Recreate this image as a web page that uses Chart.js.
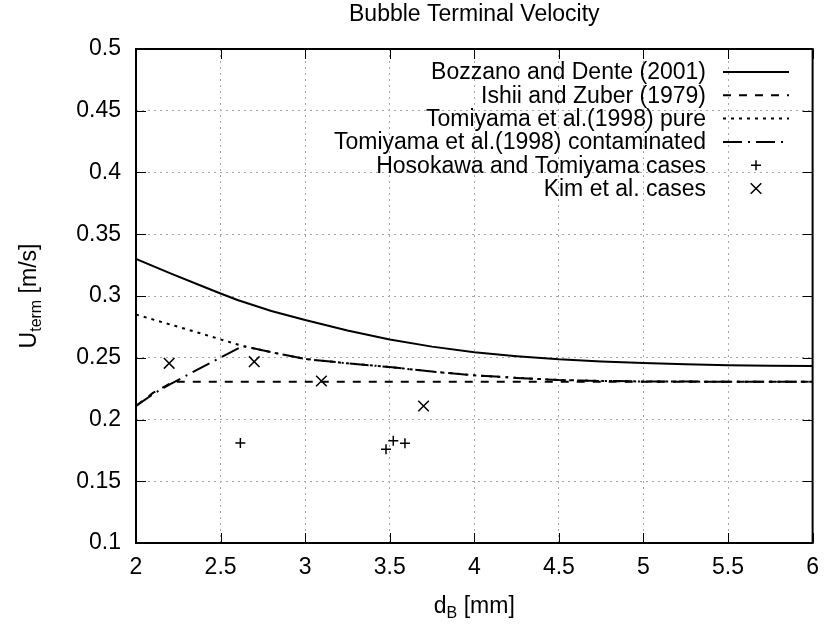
<!DOCTYPE html>
<html>
<head>
<meta charset="utf-8">
<script src="https://cdn.jsdelivr.net/npm/chart.js@4.4.1/dist/chart.umd.min.js"></script>
<style>
  html, body { margin: 0; padding: 0; background: #fff; }
</style>
</head>
<body>
<canvas id="chart" width="830" height="624"></canvas>
<script>
/* ================================
   Data
================================ */
const xTicks = [2, 2.5, 3, 3.5, 4, 4.5, 5, 5.5, 6];
const yTicks = [0.1, 0.15, 0.2, 0.25, 0.3, 0.35, 0.4, 0.45, 0.5];

const bozzanoX = [2, 2.2, 2.4, 2.5, 2.6, 2.8, 3, 3.25, 3.5, 3.75, 4, 4.25, 4.5, 4.75, 5, 5.25, 5.5, 5.75, 6];
const bozzanoY = [0.330, 0.3185, 0.3075, 0.302, 0.2968, 0.2878, 0.2805, 0.272, 0.2648, 0.259, 0.2545, 0.2513, 0.2487, 0.2470, 0.2458, 0.2448, 0.2440, 0.2436, 0.2433];

const ishiiX = [2, 2.1, 2.22, 6];
const ishiiY = [0.211, 0.2215, 0.2305, 0.2305];

const pureX = [2, 2.2, 2.4, 2.63, 2.8, 3, 3.25, 3.5, 3.75, 4, 4.25, 4.5, 4.75, 5, 5.5, 6];
const pureY = [0.285, 0.277, 0.269, 0.2595, 0.2545, 0.249, 0.2455, 0.2425, 0.2388, 0.2358, 0.2337, 0.232, 0.2312, 0.2308, 0.2306, 0.2305];

const contamX = [2, 2.1, 2.2, 2.4, 2.63, 2.8, 3, 3.25, 3.5, 3.75, 4, 4.25, 4.5, 4.75, 5, 5.5, 6];
const contamY = [0.211, 0.2205, 0.2285, 0.243, 0.2595, 0.2545, 0.249, 0.2455, 0.2425, 0.2388, 0.2358, 0.2337, 0.232, 0.2312, 0.2308, 0.2306, 0.2305];

const hosokawaX = [2.617, 3.478, 3.521, 3.59];
const hosokawaY = [0.181, 0.176, 0.1828, 0.1807];

const kimX = [2.196, 2.699, 3.096, 3.70];
const kimY = [0.2455, 0.2468, 0.2312, 0.2109];

/* ================================
   Helpers
================================ */
const FONT = "'Liberation Sans', Arial, Helvetica, sans-serif";
const FONT_SIZE = 23;
const INK = "#000";

function toPoints(xs, ys) {
    return xs.map((x, i) => ({ x: x, y: ys[i] }));
}

function fmt(v) {
    return String(Math.round(v * 100) / 100);
}

/* ================================
   gnuplot-like frame, ticks, legend, labels
================================ */
const gnuplotFrame = {
    id: "gnuplotFrame",
    afterDraw(chart) {
        const ctx = chart.ctx;
        const area = chart.chartArea;
        const xs = chart.scales.x;
        const ys = chart.scales.y;
        const midX = (area.left + area.right) / 2;

        ctx.save();
        ctx.setLineDash([]);
        ctx.strokeStyle = INK;

        // inward tick marks on all four sides
        ctx.lineWidth = 1;
        xTicks.forEach(v => {
            const px = Math.round(xs.getPixelForValue(v)) + 0.5;
            ctx.beginPath();
            ctx.moveTo(px, area.bottom); ctx.lineTo(px, area.bottom - 10);
            ctx.moveTo(px, area.top); ctx.lineTo(px, area.top + 10);
            ctx.stroke();
        });
        yTicks.forEach(v => {
            const py = Math.round(ys.getPixelForValue(v)) + 0.5;
            ctx.beginPath();
            ctx.moveTo(area.left, py); ctx.lineTo(area.left + 10, py);
            ctx.moveTo(area.right, py); ctx.lineTo(area.right - 10, py);
            ctx.stroke();
        });

        // border
        ctx.lineWidth = 2;
        ctx.strokeRect(area.left, area.top, area.right - area.left, area.bottom - area.top);

        // title, centred over the plot area
        ctx.font = FONT_SIZE + "px " + FONT;
        ctx.fillStyle = INK;
        ctx.textAlign = "center";
        ctx.textBaseline = "middle";
        ctx.fillText("Bubble Terminal Velocity", midX, 15);

        // legend (text right aligned, sample on the right)
        const textRight = 706;
        const sampleL = 723, sampleR = 789;
        const rowTop = 72, rowStep = 23.3;
        ctx.textAlign = "right";
        chart.data.datasets.forEach((ds, i) => {
            const y = rowTop + i * rowStep;
            ctx.fillText(ds.label, textRight, y + 1);
            ctx.lineWidth = ds.borderWidth;
            if (ds.showLine) {
                ctx.setLineDash(ds.borderDash || []);
                ctx.beginPath();
                ctx.moveTo(sampleL, y); ctx.lineTo(sampleR, y);
                ctx.stroke();
                ctx.setLineDash([]);
            } else {
                const cx = (sampleL + sampleR) / 2;
                const r = ds.pointStyle === "crossRot" ? ds.pointRadius * Math.SQRT1_2 : ds.pointRadius;
                ctx.beginPath();
                if (ds.pointStyle === "crossRot") {
                    ctx.moveTo(cx - r, y - r); ctx.lineTo(cx + r, y + r);
                    ctx.moveTo(cx - r, y + r); ctx.lineTo(cx + r, y - r);
                } else {
                    ctx.moveTo(cx - r, y); ctx.lineTo(cx + r, y);
                    ctx.moveTo(cx, y - r); ctx.lineTo(cx, y + r);
                }
                ctx.stroke();
            }
        });

        // axis titles with subscripts
        drawSubLabel(ctx, "d", "B", " [mm]", midX, 613);
        ctx.save();
        ctx.translate(36, (area.top + area.bottom) / 2);
        ctx.rotate(-Math.PI / 2);
        drawSubLabel(ctx, "U", "term", " [m/s]", 0, 0);
        ctx.restore();

        ctx.restore();
    }
};

function drawSubLabel(ctx, main, sub, rest, cx, baseline) {
    const big = FONT_SIZE + "px " + FONT, small = "16px " + FONT;
    ctx.font = big;
    const w1 = ctx.measureText(main).width;
    const w3 = ctx.measureText(rest).width;
    ctx.font = small;
    const w2 = ctx.measureText(sub).width;
    let x = cx - (w1 + w2 + w3) / 2;
    ctx.fillStyle = INK;
    ctx.textAlign = "left";
    ctx.textBaseline = "alphabetic";
    ctx.font = big;
    ctx.fillText(main, x, baseline); x += w1;
    ctx.font = small;
    ctx.fillText(sub, x, baseline + 5); x += w2;
    ctx.font = big;
    ctx.fillText(rest, x, baseline);
}

/* ================================
   Chart
================================ */
function lineSet(label, xs, ys, dash) {
    return {
        label: label,
        data: toPoints(xs, ys),
        showLine: true,
        borderColor: INK,
        backgroundColor: INK,
        borderWidth: 2,
        borderDash: dash,
        pointRadius: 0,
        tension: 0
    };
}

function markerSet(label, xs, ys, style, radius) {
    return {
        label: label,
        data: toPoints(xs, ys),
        showLine: false,
        borderColor: INK,
        backgroundColor: INK,
        borderWidth: 1.5,
        pointStyle: style,
        pointRadius: radius,
        pointHoverRadius: radius
    };
}

const gridOpts = { color: "#a6a6a6", lineWidth: 1, drawTicks: false };
const borderOpts = { display: false, dash: [2, 4] };
const tickFont = { family: FONT, size: FONT_SIZE };

new Chart(document.getElementById("chart"), {
    type: "scatter",
    data: {
        datasets: [
            lineSet("Bozzano and Dente (2001)", bozzanoX, bozzanoY, []),
            lineSet("Ishii and Zuber (1979)", ishiiX, ishiiY, [8, 8]),
            lineSet("Tomiyama et al.(1998) pure", pureX, pureY, [3, 5]),
            lineSet("Tomiyama et al.(1998) contaminated", contamX, contamY, [19, 6, 2, 6]),
            markerSet("Hosokawa and Tomiyama cases", hosokawaX, hosokawaY, "cross", 5),
            markerSet("Kim et al. cases", kimX, kimY, "crossRot", 7.5)
        ]
    },
    options: {
        responsive: false,
        animation: false,
        layout: { padding: { left: 0, right: 13, top: 49, bottom: 0 } },
        plugins: {
            legend: { display: false },
            tooltip: { enabled: false },
            title: { display: false }
        },
        scales: {
            x: {
                type: "linear",
                min: 2,
                max: 6,
                afterBuildTicks: s => { s.ticks = xTicks.map(v => ({ value: v })); },
                afterFit: s => { s.height = 81; },
                ticks: { callback: fmt, color: INK, font: tickFont, padding: 11, maxRotation: 0 },
                grid: gridOpts,
                border: borderOpts
            },
            y: {
                type: "linear",
                min: 0.1,
                max: 0.5,
                afterBuildTicks: s => { s.ticks = yTicks.map(v => ({ value: v })); },
                afterFit: s => { s.width = 136; },
                ticks: { callback: fmt, color: INK, font: tickFont, padding: 15 },
                grid: gridOpts,
                border: borderOpts
            }
        }
    },
    plugins: [gnuplotFrame]
});
</script>
</body>
</html>
